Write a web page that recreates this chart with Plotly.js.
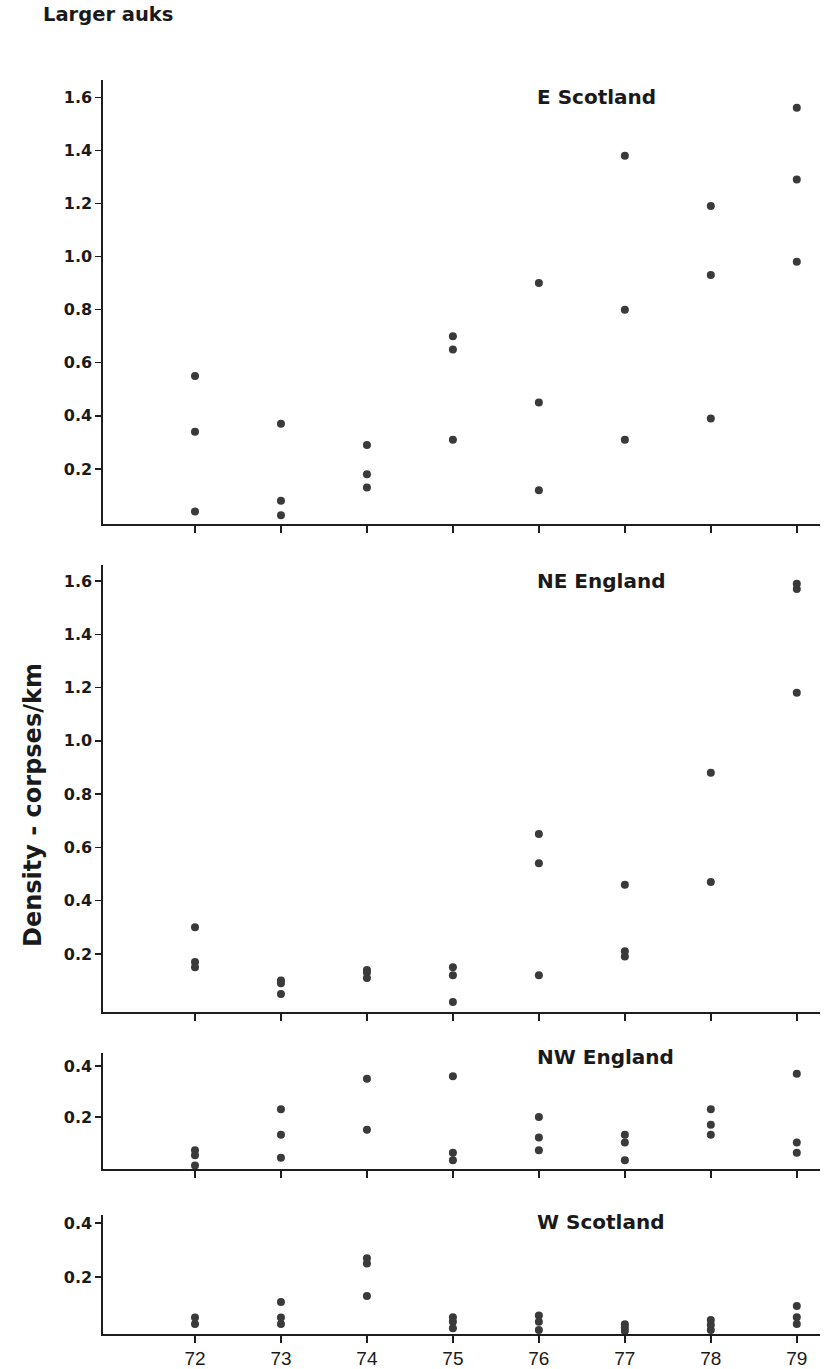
<!DOCTYPE html>
<html>
<head>
<meta charset="utf-8">
<script src="https://cdn.plot.ly/plotly-3.0.1.min.js"></script>
<style>html,body{margin:0;padding:0;background:#fff;}</style>
</head>
<body>
<div id="chart" style="width:825px;height:1369px;"></div>
<script>
// ---- data ----
const years = [72, 73, 74, 75, 76, 77, 78, 79];
const yearLabels = ["72", "73", "74", "75", "76", "77", "78", "79"];

const eScotland = [
  [0.55, 0.34, 0.04],
  [0.37, 0.08, 0.025],
  [0.29, 0.18, 0.13],
  [0.70, 0.65, 0.31],
  [0.90, 0.45, 0.12],
  [1.38, 0.80, 0.31],
  [1.19, 0.93, 0.39],
  [1.56, 1.29, 0.98]
];
const neEngland = [
  [0.30, 0.17, 0.15],
  [0.10, 0.09, 0.05],
  [0.14, 0.13, 0.11],
  [0.15, 0.12, 0.02],
  [0.65, 0.54, 0.12],
  [0.46, 0.21, 0.19],
  [0.88, 0.47],
  [1.59, 1.57, 1.18]
];
const nwEngland = [
  [0.07, 0.05, 0.01],
  [0.23, 0.13, 0.04],
  [0.35, 0.15],
  [0.36, 0.06, 0.03],
  [0.20, 0.12, 0.07],
  [0.13, 0.10, 0.03],
  [0.23, 0.17, 0.13],
  [0.37, 0.10, 0.06]
];
const wScotland = [
  [0.05, 0.026],
  [0.108, 0.05, 0.026],
  [0.27, 0.25, 0.13],
  [0.051, 0.034, 0.01],
  [0.058, 0.034, 0.004],
  [0.025, 0.012, 0.0],
  [0.041, 0.022, 0.004],
  [0.093, 0.051, 0.026]
];

const regionNames = ["E Scotland", "NE England", "NW England", "W Scotland"];
const bigTicks = [0.2, 0.4, 0.6, 0.8, 1.0, 1.2, 1.4, 1.6];
const smallTicks = [0.2, 0.4];
const yTitle = "Density - corpses/km";
const mainTitle = "Larger auks";

// ---- build traces ----
function flatten(series) {
  const xs = [], ys = [];
  series.forEach((vals, i) => vals.forEach(v => { xs.push(years[i]); ys.push(v); }));
  return {xs, ys};
}
const allSeries = [eScotland, neEngland, nwEngland, wScotland];
const axisIds = ["", "2", "3", "4"];
const traces = allSeries.map((s, k) => {
  const f = flatten(s);
  return {
    type: "scatter", mode: "markers",
    x: f.xs, y: f.ys,
    xaxis: "x" + axisIds[k], yaxis: "y" + axisIds[k],
    marker: {size: 8, color: "#3a3a3a", line: {width: 0}},
    hoverinfo: "x+y", showlegend: false
  };
});

// ---- layout ----
const W = 825, H = 1369;
const px = v => v / W;
const py = v => 1 - v / H;
// panel pixel boxes [top, bottom]
const panels = [[80, 524], [565, 1012], [1053, 1169], [1215, 1334]];
const yRanges = [[-0.0075, 1.665], [-0.018, 1.66], [-0.004, 0.451], [-0.011, 0.43]];
const titleY = [97, 581, 1057, 1222];

const axisLine = {showline: true, linecolor: "#1e1e1e", linewidth: 1.6, ticks: "outside",
  ticklen: 7, tickwidth: 1.5, tickcolor: "#1e1e1e", showgrid: false, zeroline: false, fixedrange: true};

const layout = {
  width: W, height: H,
  margin: {l: 0, r: 0, t: 0, b: 0},
  paper_bgcolor: "#ffffff", plot_bgcolor: "#ffffff",
  showlegend: false,
  annotations: []
};

panels.forEach((p, k) => {
  const id = axisIds[k];
  const ticks = k < 2 ? bigTicks : smallTicks;
  layout["xaxis" + id] = Object.assign({}, axisLine, {
    domain: [px(103), px(820)],
    range: [70.93, 79.27],
    anchor: "y" + id,
    tickvals: years,
    ticktext: yearLabels,
    showticklabels: k === 3,
    tickfont: {family: "Liberation Sans, Arial, sans-serif", size: 19, color: "#1a1a1a"}
  });
  layout["yaxis" + id] = Object.assign({}, axisLine, {
    domain: [py(p[1]), py(p[0])],
    range: yRanges[k],
    anchor: "x" + id,
    tickvals: ticks,
    ticktext: ticks.map(t => t.toFixed(1)),
    ticklen: 6,
    tickfont: {family: "DejaVu Sans, sans-serif", size: 16, color: "#1a1a1a", weight: "bold"}
  });
  layout.annotations.push({
    xref: "paper", yref: "paper", x: px(535), y: py(titleY[k]),
    xanchor: "left", yanchor: "middle", showarrow: false,
    text: regionNames[k],
    font: {family: "DejaVu Sans, sans-serif", size: 20, color: "#1a1a1a", weight: "bold"}
  });
});

layout.annotations.push({
  xref: "paper", yref: "paper", x: px(41), y: py(15),
  xanchor: "left", yanchor: "middle", showarrow: false,
  text: mainTitle,
  font: {family: "DejaVu Sans, sans-serif", size: 19.5, color: "#1a1a1a", weight: "bold"}
});
layout.annotations.push({
  xref: "paper", yref: "paper", x: px(33), y: py(805),
  xanchor: "center", yanchor: "middle", showarrow: false, textangle: -90,
  text: yTitle,
  font: {family: "DejaVu Sans, sans-serif", size: 24, color: "#1a1a1a", weight: "bold"}
});

Plotly.newPlot("chart", traces, layout, {staticPlot: true, displayModeBar: false});
</script>
</body>
</html>
